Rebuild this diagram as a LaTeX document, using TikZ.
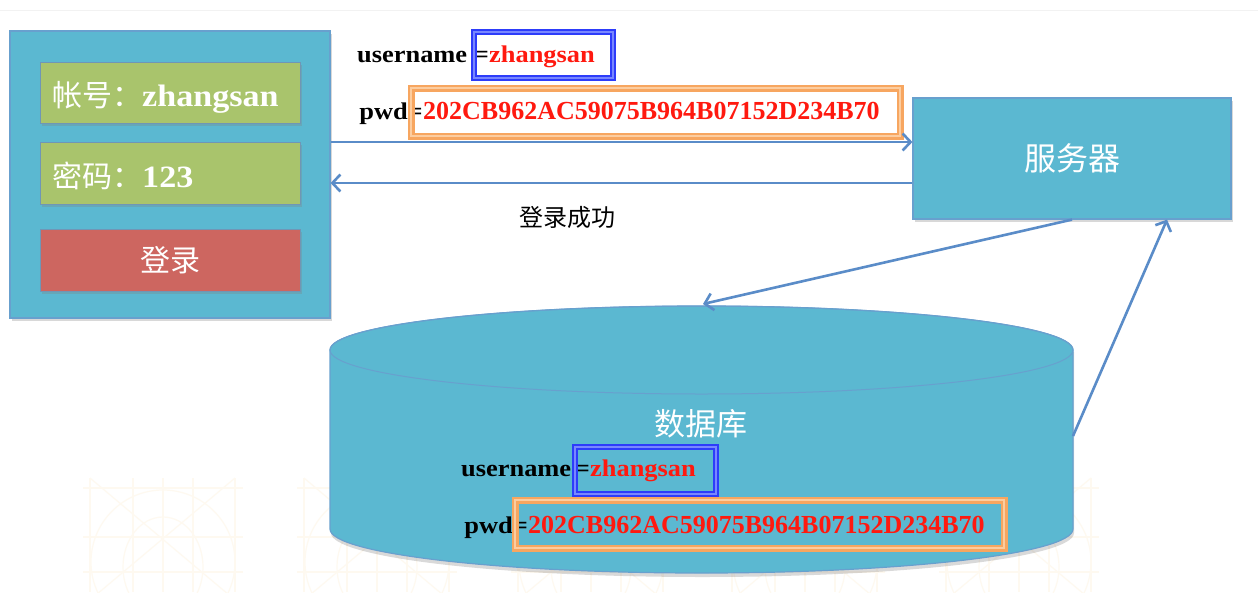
\documentclass[tikz,border=0pt]{standalone}
\usepackage{fontspec}
\setmainfont{Liberation Serif}
\newfontfamily\cjk{Noto Sans CJK SC}
\newfontfamily\wide[FakeStretch=1.1]{Liberation Serif}
\usetikzlibrary{arrows.meta,shadows}
\newcommand\fsz[1]{\fontsize{#1}{#1}\selectfont}
\definecolor{aqua}{RGB}{91,184,209}
\definecolor{aquaedge}{RGB}{104,160,206}
\definecolor{leaf}{RGB}{169,196,108}
\definecolor{brick}{RGB}{205,102,96}
\definecolor{arrowblue}{RGB}{90,140,200}
\definecolor{boxblue}{RGB}{45,60,250}
\definecolor{boxbluelt}{RGB}{120,135,255}
\definecolor{boxorange}{RGB}{247,166,96}
\definecolor{boxorangelt}{RGB}{252,205,160}
\definecolor{hexred}{RGB}{255,25,15}
\definecolor{wmark}{RGB}{254,249,240}
\begin{document}
\begin{tikzpicture}[x=1pt,y=-1pt,
  panelbox/.style={rectangle, fill=aqua, draw=aquaedge, line width=1.2pt,
    drop shadow={shadow xshift=2pt, shadow yshift=-3pt, opacity=0.3}},
  fieldbox/.style={rectangle, draw=aquaedge!70!gray, line width=0.8pt,
    drop shadow={shadow xshift=1.5pt, shadow yshift=-2.5pt, opacity=0.3}},
  lbl/.style={text=white, inner sep=0pt, font=\fsz{30}},
  blk/.style={text=black, inner sep=0pt, font=\wide\bfseries\fsz{24}},
  redtxt/.style={text=hexred, inner sep=0pt, font=\wide\bfseries\fsz{24}},
  hextxt/.style={text=hexred, inner sep=0pt, font=\bfseries\fsz{26}},
  bluebox/.style={rectangle, draw=boxblue, line width=2pt, double=boxbluelt, double distance=2pt},
  orangebox/.style={rectangle, draw=boxorange, line width=2.5pt, double=boxorangelt, double distance=2pt},
  arr/.style={draw=arrowblue, line width=2.6pt, -{Straight Barb[length=8pt,width=17pt]}},
  wm/.style={draw=wmark, line width=1.2pt}
]
\useasboundingbox (0,0) rectangle (1258,592);
\fill[white] (0,0) rectangle (1258,592);
\draw[black!5, line width=1pt] (0,10) -- (1258,10);

% faint watermark tiles
\foreach \xo in {83,297,511,725,939}{
  \begin{scope}[shift={(\xo,0)}]
    \foreach \dx in {7,50,80,110,152}{\draw[wm] (\dx,478) -- (\dx,592);}
    \foreach \yy in {488,537,572}{\draw[wm] (0,\yy) -- (160,\yy);}
    \draw[wm] (7,478) -- (152,600);
    \draw[wm] (152,478) -- (7,600);
    \draw[wm] (80,562) circle [radius=72];
    \draw[wm] (80,567) ellipse [x radius=40, y radius=50];
  \end{scope}
}

% database cylinder
\fill[black, opacity=0.15] (331,352) -- (331,533)
  arc[start angle=180, end angle=0, x radius=371.5, y radius=44] -- (1074,352) -- cycle;
\filldraw[fill=aqua, draw=aquaedge, line width=1.2pt]
  (330,350) -- (330,529) arc[start angle=180, end angle=0, x radius=371.5, y radius=44]
  -- (1073,350) arc[start angle=0, end angle=-180, x radius=371.5, y radius=44] -- cycle;
\draw[aquaedge, line width=1pt] (701.5,350) ellipse [x radius=371.5, y radius=44];
\coordinate (dbtop) at (703,304);
\coordinate (dbright) at (1073,436);
\node[text=white, font=\cjk\fsz{31}, inner sep=0pt] (db) at (701,424) {数据库};

% client panel
\node[panelbox, minimum width=320, minimum height=287] (client) at (170,174.5) {};
\node[fieldbox, fill=leaf, minimum width=260, minimum height=61] (accbox) at (170,92.5) {};
\node[fieldbox, fill=leaf, minimum width=260, minimum height=62] (pwdbox) at (170,173) {};
\node[fieldbox, fill=brick, minimum width=260, minimum height=62, text=white, font=\cjk\fsz{30}] (btn) at (170,260) {登录};
\node[lbl, anchor=base west] (acc) at (52,106) {{\cjk 帐号：}{\wide\bfseries\fsz{31}zhangsan}};
\node[lbl, anchor=base west] (pw) at (52,187) {{\cjk 密码：}{\wide\bfseries\fsz{31}123}};

% server
\node[panelbox, minimum width=318, minimum height=121, text=white, font=\cjk\fsz{32}] (server) at (1072,158.5) {服务器};

% top credentials
\node[redtxt, anchor=base west] (z1) at (489,62) {zhangsan};
\node[blk, anchor=base east] (e1) at (z1.base west) {=};
\node[blk, anchor=base west] (u1) at (357,62) {username};
\node[hextxt, anchor=base west] (h1) at (423,119) {202CB962AC59075B964B07152D234B70};
\node[blk, anchor=base east] (p1) at (h1.base west) {pwd=};
\node[bluebox, minimum width=139, minimum height=46] (b1) at (543.5,55) {};
\node[orangebox, minimum width=489, minimum height=48] (o1) at (655.5,112) {};

% inner credentials
\node[redtxt, anchor=base west] (z2) at (590,476) {zhangsan};
\node[blk, anchor=base east] (e2) at (z2.base west) {=};
\node[blk, anchor=base west] (u2) at (461,476) {username};
\node[hextxt, anchor=base west] (h2) at (528,533) {202CB962AC59075B964B07152D234B70};
\node[blk, anchor=base east] (p2) at (h2.base west) {pwd=};
\node[bluebox, minimum width=141, minimum height=47] (b2) at (645.5,470.5) {};
\node[orangebox, minimum width=489, minimum height=48] (o2) at (759.5,524) {};

% connectors
\draw[arr] (client.east |- 0,142) -- (server.west |- 0,142);
\draw[arr] (server.west |- 0,183) -- (client.east |- 0,183);
\node[font=\cjk\fsz{24}, inner sep=0pt] (ok) at (567,217) {登录成功};
\draw[arr] (server.south) -- (dbtop);
\draw[arr] (dbright) -- (server.south -| 1167,0);
\end{tikzpicture}
\end{document}
